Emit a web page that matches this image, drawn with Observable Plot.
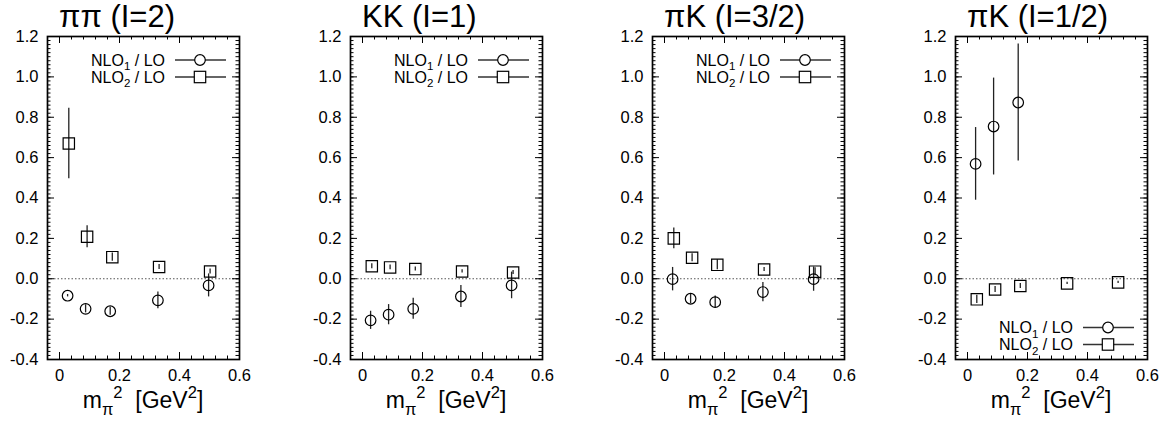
<!DOCTYPE html>
<html><head><meta charset="utf-8">
<script src="https://cdn.jsdelivr.net/npm/d3@7"></script>
<script src="https://cdn.jsdelivr.net/npm/@observablehq/plot@0.6"></script>
<style>
body{margin:0;background:#fff;}
#chart{position:relative;width:1171px;height:425px;font-family:"Liberation Sans",Arial,Helvetica,sans-serif;}
#chart svg{position:absolute;top:0;overflow:visible;}
</style></head><body><div id="chart"></div>
<script>
// ---- data ----
const titles = ["ππ (I=2)", "KK (I=1)", "πK (I=3/2)", "πK (I=1/2)"];
const seriesLabels = ["NLO_{1} / LO", "NLO_{2} / LO"];
const xLabel = "m_{π}^{2}  [GeV^{2}]";
const xNLO1 = [0.027, 0.087, 0.169, 0.328, 0.497];
const xNLO2 = [0.031, 0.092, 0.176, 0.332, 0.502];

const nlo1_pipi = [-0.084, -0.149, -0.161, -0.107, -0.033];
const nlo1_pipi_err = [0.006, 0.02, 0.02, 0.041, 0.057];
const nlo2_pipi = [0.67, 0.208, 0.107, 0.058, 0.036];
const nlo2_pipi_err = [0.175, 0.055, 0.02, 0.012, 0.012];

const nlo1_kk = [-0.206, -0.178, -0.149, -0.088, -0.033];
const nlo1_kk_err = [0.045, 0.05, 0.052, 0.055, 0.066];
const nlo2_kk = [0.062, 0.056, 0.048, 0.036, 0.031];
const nlo2_kk_err = [0.012, 0.012, 0.01, 0.008, 0.01];

const nlo1_pik32 = [-0.002, -0.099, -0.116, -0.066, -0.002];
const nlo1_pik32_err = [0.058, 0.025, 0.03, 0.048, 0.06];
const nlo2_pik32 = [0.2, 0.104, 0.069, 0.046, 0.035];
const nlo2_pik32_err = [0.052, 0.02, 0.025, 0.01, 0.02];

const nlo1_pik12 = [0.569, 0.754, 0.873];
const nlo1_pik12_err = [0.18, 0.24, 0.29];
const nlo2_pik12 = [-0.102, -0.053, -0.036, -0.023, -0.018];
const nlo2_pik12_err = [0.02, 0.015, 0.012, 0.006, 0.006];

const xTicks = [0, 0.2, 0.4, 0.6];
const yTicks = [-0.4, -0.2, 0, 0.2, 0.4, 0.6, 0.8, 1.0, 1.2];

// ---- layout ----
const panels = [
  {title: titles[0], a: nlo1_pipi, ae: nlo1_pipi_err, b: nlo2_pipi, be: nlo2_pipi_err, legend: "top", left: 0},
  {title: titles[1], a: nlo1_kk, ae: nlo1_kk_err, b: nlo2_kk, be: nlo2_kk_err, legend: "top", left: 303},
  {title: titles[2], a: nlo1_pik32, ae: nlo1_pik32_err, b: nlo2_pik32, be: nlo2_pik32_err, legend: "top", left: 605},
  {title: titles[3], a: nlo1_pik12, ae: nlo1_pik12_err, b: nlo2_pik12, be: nlo2_pik12_err, legend: "bottom", left: 907.5}
];
const xMinor = d3.range(-1, 16).map(k => +(k * 0.04).toFixed(2));
const yMinor = d3.range(-20, 61).map(k => +(k * 0.02).toFixed(2));
const W = 262, H = 425, MT = 36, MB = 66, ML = 47, MR = 23;
const FW = W - ML - MR, FH = H - MT - MB;
const FONT = '"Liberation Sans",Arial,Helvetica,sans-serif';

function rich(sel, str, fs) {
  const parts = str.split(/(_\{[^}]*\}|\^\{[^}]*\})/);
  let shift = 0;
  for (const p of parts) {
    if (!p) continue;
    if (p.startsWith("_{")) {
      const s = fs * 0.3;
      sel.append("tspan").attr("dy", s - shift).attr("font-size", fs * 0.72).text(p.slice(2, -1));
      shift = s;
    } else if (p.startsWith("^{")) {
      const s = -fs * 0.42;
      sel.append("tspan").attr("dy", s - shift).attr("font-size", fs * 0.72).text(p.slice(2, -1));
      shift = s;
    } else {
      sel.append("tspan").attr("dy", -shift).text(p);
      shift = 0;
    }
  }
}

const chart = document.getElementById("chart");
for (const P of panels) {
  const A = P.a.map((y, i) => ({x: xNLO1[i], y, e: P.ae[i]}));
  const B = P.b.map((y, i) => ({x: xNLO2[i], y, e: P.be[i]}));
  const plot = Plot.plot({
    width: W, height: H, marginTop: MT, marginBottom: MB, marginLeft: ML, marginRight: MR,
    style: {fontFamily: FONT, fontSize: "16.5px", background: "transparent", color: "#000", overflow: "visible"},
    x: {domain: [-0.04, 0.6]},
    y: {domain: [-0.4, 1.2]},
    marks: [
      Plot.ruleY([0], {stroke: "#555", strokeWidth: 1, strokeDasharray: "1.5,2"}),
      Plot.ruleX(xMinor, {x: d => d, insetTop: FH - 3.5, stroke: "#000"}),
      Plot.ruleX(xMinor, {x: d => d, insetBottom: FH - 3.5, stroke: "#000"}),
      Plot.ruleX(xTicks, {x: d => d, insetTop: FH - 7, stroke: "#000"}),
      Plot.ruleX(xTicks, {x: d => d, insetBottom: FH - 7, stroke: "#000"}),
      Plot.ruleY(yMinor, {y: d => d, insetRight: FW - 3.5, stroke: "#000"}),
      Plot.ruleY(yMinor, {y: d => d, insetLeft: FW - 3.5, stroke: "#000"}),
      Plot.ruleY(yTicks, {y: d => d, insetRight: FW - 7, stroke: "#000"}),
      Plot.ruleY(yTicks, {y: d => d, insetLeft: FW - 7, stroke: "#000"}),
      Plot.axisX(xTicks, {tickSize: 0, tickPadding: 10, fontSize: 16.5, label: null,
        tickFormat: d => d === 0 ? "0" : d.toFixed(1)}),
      Plot.axisY(yTicks, {tickSize: 0, tickPadding: 9, fontSize: 16.5, label: null,
        tickFormat: d => d.toFixed(1)}),
      Plot.frame({stroke: "#000", strokeWidth: 1.7}),
      Plot.ruleX(A, {x: "x", y1: d => d.y - d.e, y2: d => d.y + d.e, stroke: "#222", strokeWidth: 1.3}),
      Plot.ruleX(B, {x: "x", y1: d => d.y - d.e, y2: d => d.y + d.e, stroke: "#222", strokeWidth: 1.3}),
      Plot.dot(A, {x: "x", y: "y", r: 5.3, symbol: "circle", stroke: "#000", fill: "none", strokeWidth: 1.2}),
      Plot.dot(B, {x: "x", y: "y", r: 6.4, symbol: "square", stroke: "#000", fill: "none", strokeWidth: 1.2})
    ]
  });
  plot.style.left = P.left + "px";
  chart.appendChild(plot);

  const svg = d3.select(plot);
  const fl = ML, fr = W - MR, ft = MT, fb = H - MB;
  // title
  const t = svg.append("text").attr("x", fl + 12).attr("y", ft - 9).attr("text-anchor", "start")
    .attr("font-size", 31).attr("font-family", FONT).attr("fill", "#000");
  rich(t, P.title, 31);
  // x label
  const xl = svg.append("text").attr("x", (fl + fr) / 2).attr("y", 408)
    .attr("text-anchor", "middle").attr("font-size", 23).attr("font-family", FONT)
    .attr("fill", "#000").style("white-space", "pre");
  rich(xl, xLabel, 23);
  // legend
  const rows = P.legend === "top" ? [ft + 24, ft + 41] : [fb - 31.5, fb - 14.5];
  seriesLabels.forEach((lab, i) => {
    const y = rows[i];
    const tx = svg.append("text").attr("x", fr - 74).attr("y", y + 5.5)
      .attr("text-anchor", "end").attr("font-size", 16).attr("font-family", FONT).attr("fill", "#000");
    rich(tx, lab, 16);
    svg.append("line").attr("x1", fr - 64).attr("x2", fr - 13).attr("y1", y).attr("y2", y)
      .attr("stroke", "#333").attr("stroke-width", 1.3);
    if (i === 0) {
      svg.append("circle").attr("cx", fr - 39).attr("cy", y).attr("r", 5.3)
        .attr("fill", "#fff").attr("stroke", "#000").attr("stroke-width", 1.2);
    } else {
      svg.append("rect").attr("x", fr - 39 - 5.7).attr("y", y - 5.7).attr("width", 11.4).attr("height", 11.4)
        .attr("fill", "#fff").attr("stroke", "#000").attr("stroke-width", 1.2);
    }
  });
}
</script></body></html>
